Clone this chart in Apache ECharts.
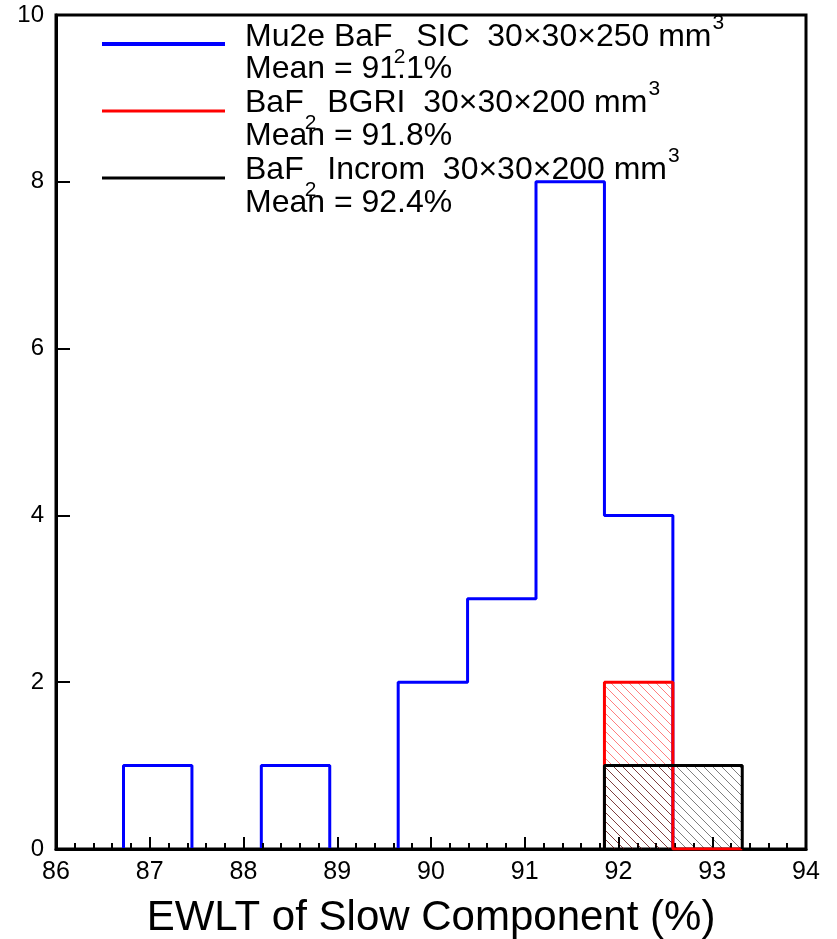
<!DOCTYPE html>
<html><head><meta charset="utf-8">
<script src="https://cdn.jsdelivr.net/npm/echarts@6/dist/echarts.min.js"></script>
<style>html,body{margin:0;padding:0;background:#fff}#c{width:837px;height:939px}</style>
</head><body><div id="c"></div>
<script>
// ---- data ----
const blueEdges = [86.72, 87.45, 88.19, 88.92, 89.65, 90.39, 91.12, 91.85, 92.58];
const blueCounts = [1, 0, 1, 0, 2, 3, 8, 4];
const redEdges = [91.85, 92.58, 93.32];
const redCounts = [2, 0];
const blackEdges = [91.85, 92.58, 93.32];
const blackCounts = [1, 1];
const seriesNames = ['Mu2e BaF2 SIC', 'BaF2 BGRI', 'BaF2 Incrom'];
const legendTitles = [
  '{m|Mu2e BaF}{s|2}{m| SIC  30×30×250 mm}{p|3}',
  '{m|BaF}{s|2}{m| BGRI  30×30×200 mm}{p|3}',
  '{m|BaF}{s|2}{m| Incrom  30×30×200 mm}{p|3}'
];
const legendMeans = ['Mean = 91.1%', 'Mean = 91.8%', 'Mean = 92.4%'];
const colors = ['#0000ff', '#ff0000', '#000000'];

const FONT = '"Liberation Sans", Arial, sans-serif';

function stepPoints(edges, counts) {
  const pts = [[edges[0], 0]];
  counts.forEach((c, i) => { pts.push([edges[i], c]); pts.push([edges[i + 1], c]); });
  pts.push([edges[edges.length - 1], 0]);
  return pts;
}
// split outline into runs, dropping segments that lie on the baseline
function stepRuns(edges, counts) {
  const pts = stepPoints(edges, counts);
  const runs = []; let cur = [pts[0]];
  for (let k = 1; k < pts.length; k++) {
    if (pts[k][1] === 0 && pts[k - 1][1] === 0) {
      if (cur.length > 1) runs.push(cur);
      cur = [pts[k]];
    } else cur.push(pts[k]);
  }
  if (cur.length > 1) runs.push(cur);
  return runs;
}
function binRects(edges, counts) { return counts.map((c, i) => [edges[i], edges[i + 1], c]); }

function hatch(color) {
  const s = 9;
  const cv = document.createElement('canvas'); cv.width = s; cv.height = s;
  const ctx = cv.getContext('2d'); ctx.strokeStyle = color; ctx.lineWidth = 1;
  ctx.beginPath();
  ctx.moveTo(0, 0); ctx.lineTo(s, s);
  ctx.moveTo(-1, s - 1); ctx.lineTo(1, s + 1);
  ctx.moveTo(s - 1, -1); ctx.lineTo(s + 1, 1);
  ctx.stroke();
  return cv;
}
const redHatch = hatch('rgba(255,0,0,0.5)');
const blackHatch = hatch('rgba(0,0,0,0.5)');

function fillSeries(name, edges, counts, pattern, z) {
  return {
    type: 'custom', name: name, z: z, silent: true,
    data: binRects(edges, counts),
    encode: { x: [0, 1], y: 2 },
    renderItem: function (params, api) {
      const p0 = api.coord([api.value(0), api.value(2)]);
      const p1 = api.coord([api.value(1), 0]);
      return { type: 'rect', shape: { x: p0[0], y: p0[1], width: p1[0] - p0[0], height: p1[1] - p0[1] },
        style: { fill: { image: pattern, repeat: 'repeat' }, stroke: null } };
    }
  };
}
function lineSeriesFromPts(name, pts, color, z) {
  return { type: 'line', name: name, z: z, data: pts, symbol: 'none',
    lineStyle: { color: color, width: 3 }, silent: true };
}

// legend graphic
const lineYs = [44, 111, 178];
const titleYs = [37, 103, 170];
const meanYs = [69, 136, 203];
const graphics = [];
for (let i = 0; i < 3; i++) {
  graphics.push({ type: 'line', shape: { x1: 102, y1: lineYs[i], x2: 225, y2: lineYs[i] },
    style: { stroke: colors[i], lineWidth: i === 0 ? 4 : 3 }, z: 10 });
  graphics.push({ type: 'text', x: 245, y: titleYs[i], z: 10,
    style: { text: legendTitles[i], align: 'left', verticalAlign: 'middle', fill: '#000',
      rich: {
        m: { fontSize: 32, fontFamily: FONT, fill: '#000' },
        s: { fontSize: 21, fontFamily: FONT, fill: '#000', padding: [40, 2, 0, 1] },
        p: { fontSize: 21, fontFamily: FONT, fill: '#000', padding: [0, 0, 28, 1] }
      } } });
  graphics.push({ type: 'text', x: 245, y: meanYs[i], z: 10,
    style: { text: legendMeans[i], align: 'left', verticalAlign: 'middle', fill: '#000',
      fontSize: 32, fontFamily: FONT } });
}

const blueSeries = stepRuns(blueEdges, blueCounts).map(r => lineSeriesFromPts(seriesNames[0], r, colors[0], 2));

const chart = echarts.init(document.getElementById('c'), null, { renderer: 'canvas' });
chart.setOption({
  animation: false,
  backgroundColor: '#fff',
  grid: { left: 56, right: 31, top: 15, bottom: 90, show: true, borderColor: '#000', borderWidth: 3,
    containLabel: false, outerBoundsMode: 'none' },
  xAxis: {
    type: 'value', min: 86, max: 94, interval: 1, z: 3,
    axisLine: { lineStyle: { color: '#000', width: 3 } },
    axisTick: { inside: true, length: 12, lineStyle: { color: '#000', width: 2 } },
    minorTick: { show: true, splitNumber: 5, length: 6, lineStyle: { color: '#000', width: 2 } },
    splitLine: { show: false },
    axisLabel: { fontSize: 25, color: '#000', margin: 11, fontFamily: FONT },
    name: 'EWLT of Slow Component (%)', nameLocation: 'middle', nameGap: 48,
    nameTextStyle: { fontSize: 42, color: '#000', fontFamily: FONT }
  },
  yAxis: {
    type: 'value', min: 0, max: 10, interval: 2, z: 3,
    axisLine: { lineStyle: { color: '#000', width: 3 } },
    axisTick: { inside: true, length: 14, lineStyle: { color: '#000', width: 2 } },
    splitLine: { show: false },
    axisLabel: { fontSize: 24, color: '#000', margin: 12, fontFamily: FONT }
  },
  series: blueSeries.concat([
    fillSeries(seriesNames[1], redEdges, redCounts, redHatch, 4),
    fillSeries(seriesNames[2], blackEdges, blackCounts, blackHatch, 5),
    lineSeriesFromPts(seriesNames[1], stepPoints(redEdges, redCounts), colors[1], 6),
    lineSeriesFromPts(seriesNames[2], stepPoints(blackEdges, blackCounts), colors[2], 7)
  ]),
  graphic: graphics
});
</script></body></html>
